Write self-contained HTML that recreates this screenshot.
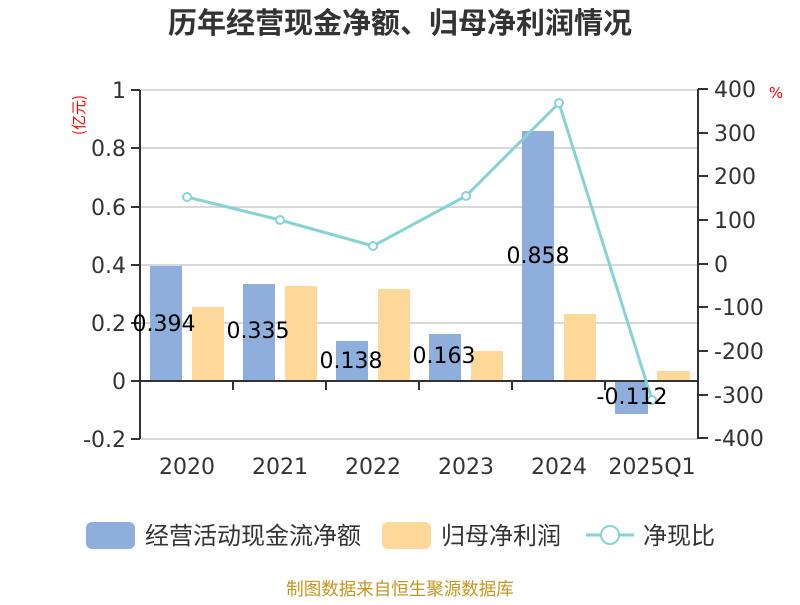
<!DOCTYPE html>
<html><head><meta charset="utf-8"><style>
body{margin:0;background:#fff}
svg text{font-family:"DejaVu Sans","Noto Sans CJK SC",sans-serif}
.c{font-family:"Noto Sans CJK SC","WenQuanYi Zen Hei",sans-serif}
</style></head><body>
<svg width="800" height="600" xmlns="http://www.w3.org/2000/svg">
<text class="c" x="400" y="33" font-size="29" font-weight="bold" text-anchor="middle" fill="#333">历年经营现金净额、归母净利润情况</text>
<g stroke="#ccc" stroke-width="1.5">
<line x1="140" y1="90" x2="698" y2="90"/><line x1="140" y1="148" x2="698" y2="148"/><line x1="140" y1="207" x2="698" y2="207"/><line x1="140" y1="265" x2="698" y2="265"/><line x1="140" y1="323" x2="698" y2="323"/><line x1="140" y1="439" x2="698" y2="439"/>
</g>
<g fill="#8eaedb">
<rect x="150" y="266" width="32" height="115"/><rect x="243" y="284" width="32" height="97"/><rect x="336" y="341" width="32" height="40"/><rect x="429" y="334" width="32" height="47"/><rect x="522" y="131" width="32" height="250"/><rect x="615" y="381" width="33" height="33"/>
</g>
<g fill="#fed898">
<rect x="192" y="307" width="32" height="74"/><rect x="285" y="286" width="32" height="95"/><rect x="378" y="289" width="32" height="92"/><rect x="471" y="351" width="32" height="30"/><rect x="564" y="314" width="32" height="67"/><rect x="657" y="371" width="33" height="10"/>
</g>
<g stroke="#333" stroke-width="2" fill="none">
<line x1="140" y1="90" x2="140" y2="439"/><line x1="698" y1="89" x2="698" y2="439"/>
<line x1="140" y1="381" x2="698" y2="381"/>
<path d="M131 90H140M131 148H140M131 207H140M131 265H140M131 323H140M131 381H140M131 439H140"/>
<path d="M698 89H708M698 133H708M698 176H708M698 220H708M698 264H708M698 307H708M698 351H708M698 395H708M698 438H708"/>
<path d="M233 381V390M326 381V390M419 381V390M512 381V390M605 381V390"/>
</g>
<g font-size="22" fill="#333" text-anchor="end">
<text x="126" y="98">1</text><text x="126" y="156">0.8</text><text x="126" y="215">0.6</text><text x="126" y="273">0.4</text><text x="126" y="331">0.2</text><text x="126" y="389">0</text><text x="126" y="447">-0.2</text>
</g>
<g font-size="22" fill="#333">
<text x="714" y="97">400</text><text x="714" y="141">300</text><text x="714" y="184">200</text><text x="714" y="228">100</text><text x="714" y="272">0</text><text x="714" y="315">-100</text><text x="714" y="359">-200</text><text x="714" y="403">-300</text><text x="714" y="446">-400</text>
</g>
<text class="c" transform="translate(84,115) rotate(-90)" font-size="15" fill="red" text-anchor="middle">(亿元)</text>
<text x="776" y="98" font-size="15" fill="red" text-anchor="middle">%</text>
<g font-size="22" fill="#333" text-anchor="middle">
<text x="187" y="474">2020</text><text x="280" y="474">2021</text><text x="373" y="474">2022</text><text x="466" y="474">2023</text><text x="559" y="474">2024</text><text x="652" y="474">2025Q1</text>
</g>
<polyline points="187,197 280,220 373,246 466,196 559,103 652,400" fill="none" stroke="#86d3d6" stroke-width="3"/>
<g fill="#fff" stroke="#86d3d6" stroke-width="2">
<circle cx="187" cy="197" r="4"/><circle cx="280" cy="220" r="4"/><circle cx="373" cy="246" r="4"/><circle cx="466" cy="196" r="4"/><circle cx="559" cy="103" r="4"/><circle cx="652" cy="400" r="4"/>
</g>
<g font-size="22" fill="#000" text-anchor="middle">
<text x="164" y="331">0.394</text><text x="258" y="338">0.335</text><text x="351" y="368">0.138</text><text x="444" y="363">0.163</text><text x="538" y="263">0.858</text><text x="632" y="404">-0.112</text>
</g>
<rect x="86" y="522" width="49" height="27" rx="6" fill="#8eaedb"/>
<text class="c" x="145" y="544" font-size="24" fill="#333">经营活动现金流净额</text>
<rect x="382" y="522" width="49" height="27" rx="6" fill="#fed898"/>
<text class="c" x="441" y="544" font-size="24" fill="#333">归母净利润</text>
<line x1="586" y1="535" x2="634" y2="535" stroke="#86d3d6" stroke-width="3"/>
<circle cx="610" cy="535" r="9" fill="#fff" stroke="#86d3d6" stroke-width="2"/>
<text class="c" x="643" y="544" font-size="24" fill="#333">净现比</text>
<text class="c" x="400" y="595" font-size="17.5" fill="#c8961e" text-anchor="middle">制图数据来自恒生聚源数据库</text>
</svg>
</body></html>
